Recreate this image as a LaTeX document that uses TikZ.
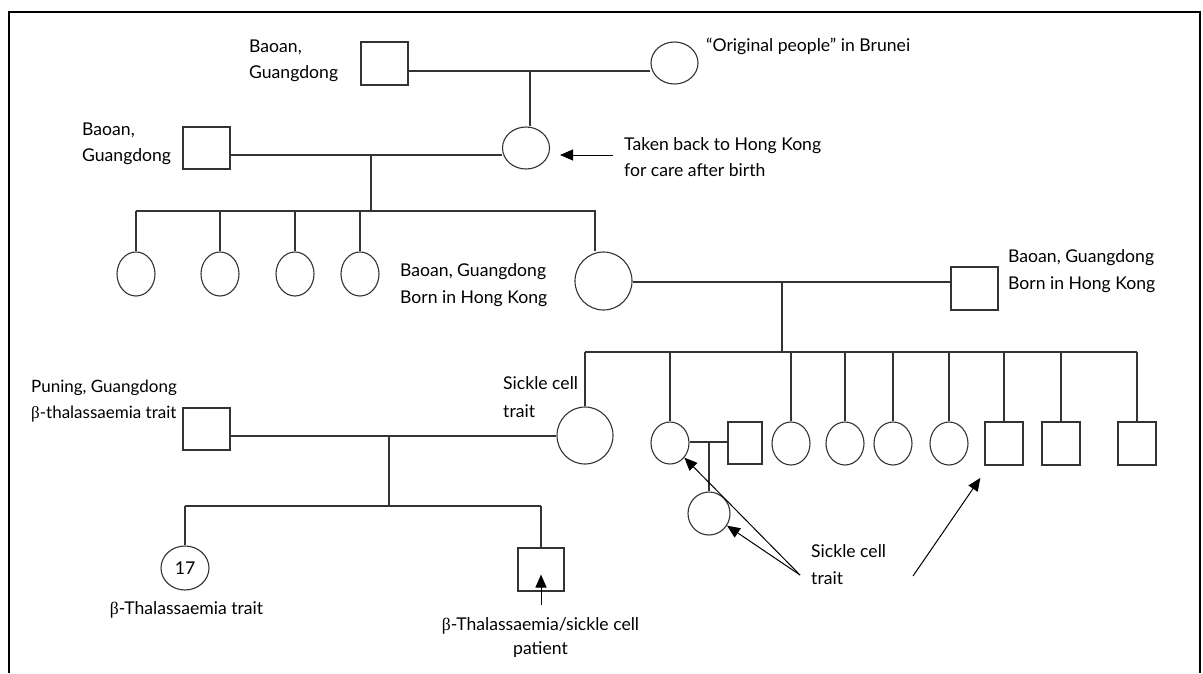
\documentclass[tikz,border=0pt]{standalone}
\usepackage{fontspec}
\setmainfont{Lato}
\newfontfamily\greekfont{Liberation Serif}
\usetikzlibrary{shapes.geometric,arrows.meta}
\newcommand{\bsym}{{\greekfont β}}

\begin{document}
\begin{tikzpicture}[
    x=1pt, y=-1pt,
    male/.style={
        rectangle,
        draw=black!80,
        line width=1.1pt,
        minimum width=47pt,
        minimum height=43pt,
        inner sep=0pt
    },
    female/.style={
        ellipse,
        draw=black!80,
        line width=1.1pt,
        minimum width=38pt,
        minimum height=43pt,
        inner sep=0pt
    },
    line/.style={
        draw=black!80,
        line width=1.1pt
    },
    arrow/.style={
        -{Triangle[length=13pt,width=11pt]},
        draw=black,
        line width=1pt
    },
    note/.style={
        anchor=base west,
        align=left,
        inner sep=0pt,
        font=\fontsize{17.6}{26}\selectfont
    }
]
\useasboundingbox (0,0) rectangle (1203,673);

% Frame
\draw[line width=1.2pt] (9,673) -- (9,12) -- (1200,12) -- (1200,673);

% Generation I
\node[male] (g1m) at (384.5,63.5) {};
\node[female, minimum width=47pt, minimum height=42pt] (g1f) at (674.5,63) {};
\coordinate (m1) at (530,71);

% Generation II
\node[male, minimum height=42pt] (g2m) at (206.5,148) {};
\node[female, minimum width=47pt, minimum height=42pt] (g2f) at (526,148) {};
\coordinate (m2) at (371,155);
\coordinate (s3) at (371,211);

% Generation III
\node[female, minimum height=44pt] (d1) at (136,274) {};
\node[female, minimum height=44pt] (d2) at (220,274) {};
\node[female, minimum height=44pt] (d3) at (295,274) {};
\node[female, minimum height=44pt] (d4) at (360,274) {};
\node[female, minimum width=57pt, minimum height=58pt] (g3f) at (603.5,281) {};
\node[male] (g3m) at (974.5,288.5) {};
\coordinate (s3r) at (595,211);
\coordinate (m3) at (782,282);
\coordinate (s4) at (782,352);

% Generation IV
\node[male, minimum height=42pt] (pun) at (206.5,429) {};
\node[female, minimum width=56pt, minimum height=57pt] (g4a) at (585,435.5) {};
\node[female, minimum height=42pt] (g4b) at (670,443) {};
\node[male, minimum width=34pt, minimum height=42pt] (g4bh) at (745,443) {};
\node[female] (g4c) at (791,443.5) {};
\node[female] (g4d) at (845,443.5) {};
\node[female] (g4e) at (893,443.5) {};
\node[female] (g4f) at (949,443.5) {};
\node[male, minimum width=38pt] (g4g) at (1004,443.5) {};
\node[male, minimum width=38pt] (g4h) at (1061,443.5) {};
\node[male, minimum width=38pt] (g4i) at (1137,443.5) {};
\coordinate (m4) at (709,442);
\coordinate (m5) at (389,436);
\coordinate (s5) at (389,506);

% Generation V
\node[female, minimum width=48pt, minimum height=44pt, font=\fontsize{17.6}{26}\selectfont] (g5a) at (185,568) {17};
\node[male, minimum width=46pt] (g5b) at (541,569.5) {};
\node[female, minimum width=42pt, minimum height=43pt] (g5c) at (709,513.5) {};

% Lines of descent
\draw[line] (g1m.east |- m1) -- (g1f.west |- m1);
\draw[line] (m1) -- (m1 |- g2f.north);
\draw[line] (g2m.east |- m2) -- (g2f.west |- m2);
\draw[line] (m2) -- (s3);
\draw[line] (d1.north |- s3) -- (s3r) -- (s3r |- g3f.north);
\foreach \n in {d1,d2,d3,d4}
    \draw[line] (\n.north |- s3) -- (\n.north);
\draw[line] (g3f.east |- m3) -- (g3m.west |- m3);
\draw[line] (m3) -- (s4);
\draw[line] (g4a.north |- s4) -- (g4i.north |- s4);
\foreach \n in {g4a,g4b,g4c,g4d,g4e,g4f,g4g,g4h,g4i}
    \draw[line] (\n.north |- s4) -- (\n.north);
\draw[line] (g4b.east |- m4) -- (g4bh.west |- m4);
\draw[line] (m4) -- (g5c.north);
\draw[line] (pun.east |- m5) -- (g4a.west |- m5);
\draw[line] (m5) -- (s5);
\draw[line] (g5a.north |- s5) -- (g5b.north |- s5);
\draw[line] (g5a.north |- s5) -- (g5a.north);
\draw[line] (g5b.north |- s5) -- (g5b.north);

% Pointers
\coordinate (t1) at (613,155);
\coordinate (t2) at (541,605);
\coordinate (t3) at (800,575);
\coordinate (t4) at (913,576);
\draw[arrow, shorten >=10pt] (t1) -- (g2f.east |- t1);
\draw[arrow, shorten >=5pt] (t2) -- (t2 |- g5b.center);
\draw[arrow] (t3) -- (g4b);
\draw[arrow] (t3) -- (g5c);
\draw[arrow, shorten >=15pt] (t4) -- (g4g);

% Labels
\node[note] (l1) at (249,78) {Baoan,\\Guangdong};
\node[note] (l2) at (706,51) {“Original people” in Brunei};
\node[note] (l3) at (82,161) {Baoan,\\Guangdong};
\node[note] (l4) at (624,176) {Taken back to Hong Kong\\for care after birth};
\node[note, font=\fontsize{17.6}{27}\selectfont] (l5) at (400,303) {Baoan, Guangdong\\Born in Hong Kong};
\node[note, font=\fontsize{17.6}{27}\selectfont] (l6) at (1008,289) {Baoan, Guangdong\\Born in Hong Kong};
\node[note, font=\fontsize{17}{26}\selectfont] (l7) at (31,418) {Puning, Guangdong\\\bsym-thalassaemia trait};
\node[note, font=\fontsize{17.6}{28}\selectfont] (l8) at (503,417) {Sickle cell\\trait};
\node[note, font=\fontsize{17.6}{27}\selectfont] (l9) at (811,584) {Sickle cell\\trait};
\node[note, anchor=base] (l10) at (186.5,614) {\bsym-Thalassaemia trait};
\node[note, anchor=base, align=center, font=\fontsize{17.6}{24}\selectfont] (l11) at (540.5,654) {\bsym-Thalassaemia/sickle cell\\patient};

\end{tikzpicture}
\end{document}
